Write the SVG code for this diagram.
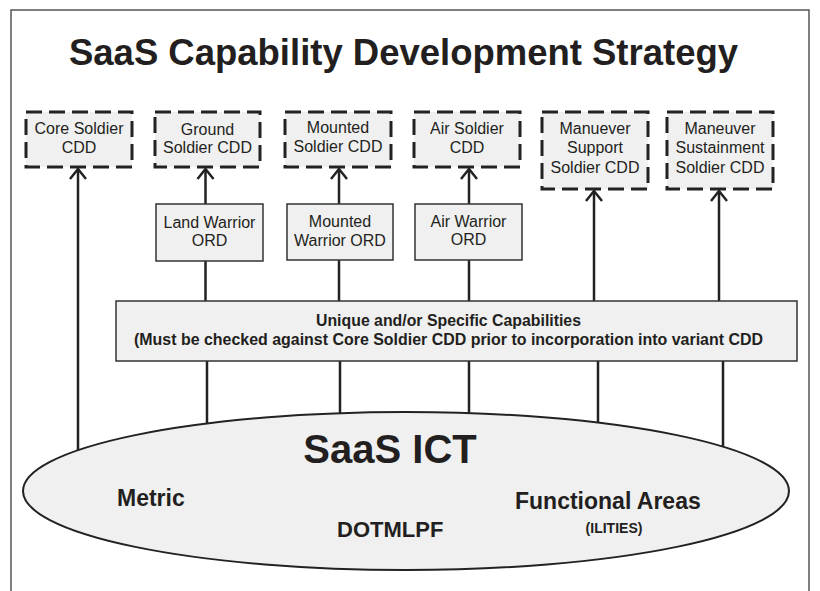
<svg xmlns="http://www.w3.org/2000/svg" width="820" height="591" viewBox="0 0 820 591">
  <defs>
    <style>
      .frame { fill: #ffffff; stroke: #555555; stroke-width: 1.5; }
      .cdd { fill: #f0f0f0; stroke: #222222; stroke-width: 3; stroke-dasharray: 16 7; }
      .ord { fill: #f0f0f0; stroke: #333333; stroke-width: 1.5; }
      .band { fill: #f0f0f0; stroke: #333333; stroke-width: 1.5; }
      .ict { fill: #f0f0f0; stroke: #222222; stroke-width: 2; }
      .link { fill: none; stroke: #222222; stroke-width: 2.5; }
      .head { fill: none; stroke: #222222; stroke-width: 2.5; stroke-linejoin: miter; }
      text { font-family: "Liberation Sans", Arial, sans-serif; fill: #231f20; }
      .lbl { font-size: 16px; text-anchor: middle; }
      .bold { font-weight: bold; }
    </style>
  </defs>

  <rect width="820" height="591" fill="#ffffff"/>
  <rect class="frame" x="11" y="10" width="798" height="600"/>

  <text class="bold" x="69" y="65" font-size="37" textLength="669" lengthAdjust="spacingAndGlyphs">SaaS Capability Development Strategy</text>

  <!-- connectors: vertical links and open arrowheads -->
  <g id="connectors">
    <line class="link" x1="78" y1="452" x2="78" y2="169"/>
    <polyline class="head" points="70,179 78,169 86,179"/>

    <line class="link" x1="205.5" y1="204" x2="205.5" y2="169"/>
    <polyline class="head" points="197.5,179 205.5,169 213.5,179"/>
    <line class="link" x1="205.5" y1="261" x2="205.5" y2="301"/>
    <line class="link" x1="207" y1="361" x2="207" y2="426"/>

    <line class="link" x1="339" y1="204" x2="339" y2="169"/>
    <polyline class="head" points="331,179 339,169 347,179"/>
    <line class="link" x1="339" y1="260" x2="339" y2="301"/>
    <line class="link" x1="340" y1="361" x2="340" y2="415"/>

    <line class="link" x1="469" y1="204" x2="469" y2="169"/>
    <polyline class="head" points="461,179 469,169 477,179"/>
    <line class="link" x1="469" y1="260" x2="469" y2="301"/>
    <line class="link" x1="469" y1="361" x2="469" y2="415"/>

    <line class="link" x1="594" y1="301" x2="594" y2="191"/>
    <polyline class="head" points="586,201 594,191 602,201"/>
    <line class="link" x1="598" y1="361" x2="598" y2="425"/>

    <line class="link" x1="719" y1="301" x2="719" y2="191"/>
    <polyline class="head" points="711,201 719,191 727,201"/>
    <line class="link" x1="723" y1="361" x2="723" y2="446"/>
  </g>

  <!-- capability documents (dashed) -->
  <g id="core-cdd">
    <rect class="cdd" x="26" y="112" width="106" height="55"/>
    <text class="lbl" x="79" y="134">Core Soldier</text>
    <text class="lbl" x="79" y="153">CDD</text>
  </g>
  <g id="ground-cdd">
    <rect class="cdd" x="155" y="112" width="105" height="55"/>
    <text class="lbl" x="207.5" y="135">Ground</text>
    <text class="lbl" x="207.5" y="153">Soldier CDD</text>
  </g>
  <g id="mounted-cdd">
    <rect class="cdd" x="285" y="112" width="106" height="55"/>
    <text class="lbl" x="338" y="133">Mounted</text>
    <text class="lbl" x="338" y="152">Soldier CDD</text>
  </g>
  <g id="air-cdd">
    <rect class="cdd" x="414" y="112" width="106" height="55"/>
    <text class="lbl" x="467" y="134">Air Soldier</text>
    <text class="lbl" x="467" y="153">CDD</text>
  </g>
  <g id="support-cdd">
    <rect class="cdd" x="542" y="112" width="106" height="77"/>
    <text class="lbl" x="595" y="134">Manuever</text>
    <text class="lbl" x="595" y="153">Support</text>
    <text class="lbl" x="595" y="173">Soldier CDD</text>
  </g>
  <g id="sustainment-cdd">
    <rect class="cdd" x="667" y="112" width="106" height="77"/>
    <text class="lbl" x="720" y="134">Maneuver</text>
    <text class="lbl" x="720" y="153">Sustainment</text>
    <text class="lbl" x="720" y="173">Soldier CDD</text>
  </g>

  <!-- requirement documents -->
  <g id="land-ord">
    <rect class="ord" x="156" y="204" width="107" height="57"/>
    <text class="lbl" x="209.5" y="228">Land Warrior</text>
    <text class="lbl" x="209.5" y="246">ORD</text>
  </g>
  <g id="mounted-ord">
    <rect class="ord" x="287" y="204" width="106" height="56"/>
    <text class="lbl" x="340" y="227">Mounted</text>
    <text class="lbl" x="340" y="246">Warrior ORD</text>
  </g>
  <g id="air-ord">
    <rect class="ord" x="415" y="204" width="107" height="56"/>
    <text class="lbl" x="468.5" y="227">Air Warrior</text>
    <text class="lbl" x="468.5" y="245">ORD</text>
  </g>

  <!-- shared capability band -->
  <g id="unique-capabilities">
    <rect class="band" x="116" y="301" width="681" height="60"/>
    <text class="bold" x="316" y="326" font-size="16.5" textLength="265" lengthAdjust="spacingAndGlyphs">Unique and/or Specific Capabilities</text>
    <text class="bold" x="134" y="345" font-size="16.5" textLength="629" lengthAdjust="spacingAndGlyphs">(Must be checked against Core Soldier CDD prior to incorporation into variant CDD</text>
  </g>

  <!-- foundation -->
  <g id="saas-ict">
    <ellipse class="ict" cx="406" cy="491" rx="383" ry="79"/>
    <text class="bold" x="390" y="463" font-size="40" text-anchor="middle">SaaS ICT</text>
    <text class="bold" x="117" y="506" font-size="23">Metric</text>
    <text class="bold" x="337" y="537" font-size="22">DOTMLPF</text>
    <text class="bold" x="515" y="509" font-size="23">Functional Areas</text>
    <text class="bold" x="614" y="533" font-size="14" text-anchor="middle">(ILITIES)</text>
  </g>
</svg>
